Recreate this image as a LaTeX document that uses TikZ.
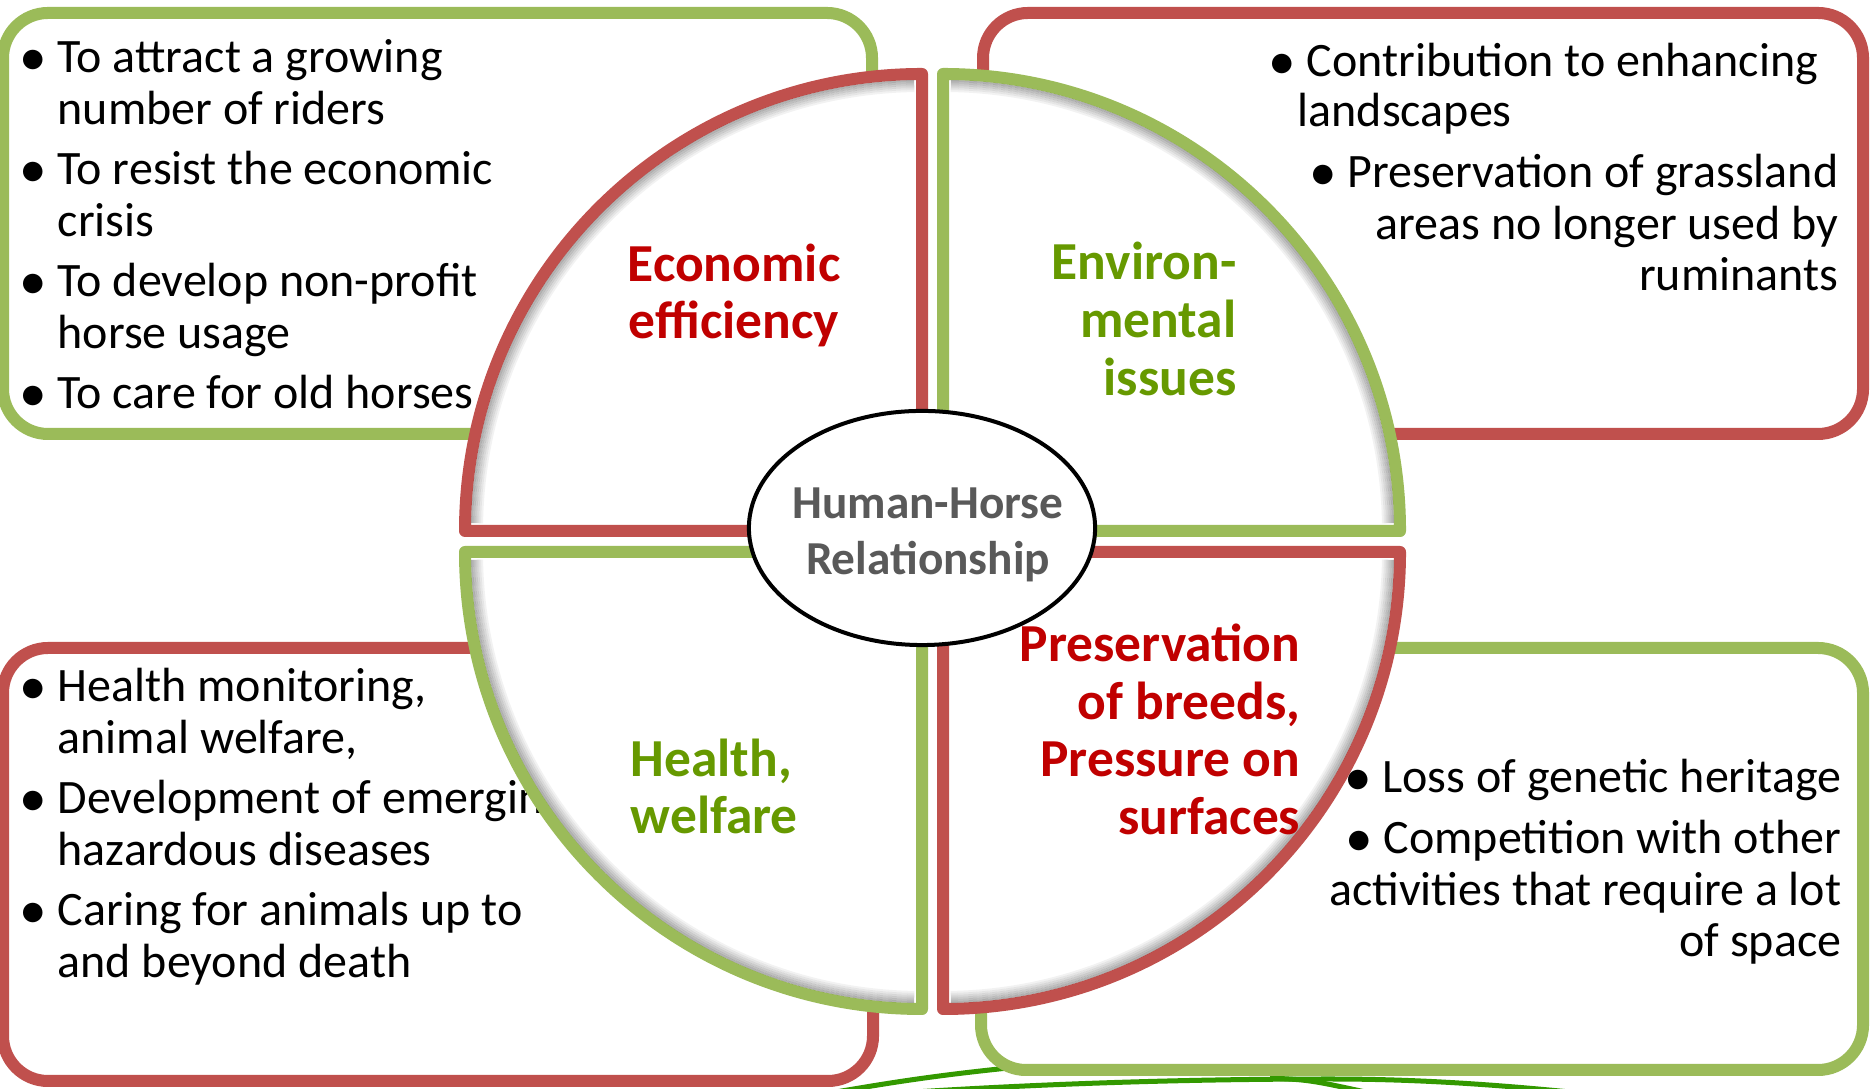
\documentclass[tikz,border=0pt]{standalone}
\usepackage{graphicx}
\usepackage{fontspec}
\setmainfont{Carlito}
\usetikzlibrary{shapes.geometric}

\definecolor{hhred}{HTML}{C0504D}
\definecolor{hhgreen}{HTML}{9BBB59}
\definecolor{titlered}{HTML}{C00000}
\definecolor{titlegreen}{HTML}{669900}
\definecolor{hubgray}{HTML}{595959}
\definecolor{vine}{HTML}{339900}

\newcommand{\bul}{\llap{\raisebox{-0.12ex}{\scalebox{1.15}{\textbullet}}\hspace{3pt}}}

\tikzset{
  box/.style={line width=0.12cm, rounded corners=0.45cm, fill=white},
  quarter/.style={line width=0.12cm, line join=round, fill=white},
  body/.style={font=\fontsize{13.65}{15}\selectfont, inner sep=0pt, yshift=-0.02cm},
  heading/.style={font=\fontsize{15.2}{16.4}\selectfont\bfseries, inner sep=0pt, yshift=-0.02cm},
  hub/.style={ellipse, draw=black, line width=0.04cm, fill=white,
    minimum width=3.46cm, minimum height=2.34cm, inner sep=0pt},
  hubtext/.style={font=\fontsize{13.45}{16}\selectfont\bfseries, text=hubgray,
    inner sep=0pt, anchor=base, yshift=-0.02cm}
}

\begin{document}
\begin{tikzpicture}[x=0.01cm, y=0.01cm]
\fill[white] (0,0) rectangle (1874,1089);
\useasboundingbox (0,0) rectangle (1874,1089);

% stems along the bottom edge
\draw[vine, line width=0.05cm] (830,-4) .. controls (900,8) and (950,16) .. (1060,26);
\draw[vine, line width=0.05cm] (900,-4) .. controls (1050,6) and (1200,10) .. (1330,10)
  .. controls (1420,10) and (1500,4) .. (1580,-4);
\draw[vine, line width=0.05cm] (1270,11) .. controls (1310,9) .. (1370,-4);

% outer boxes
\draw[box, draw=hhgreen] (3,655) rectangle (872,1076);
\draw[box, draw=hhred] (983,655) rectangle (1863,1076);
\draw[box, draw=hhred] (3,8) rectangle (873,441);
\draw[box, draw=hhgreen] (981,19) rectangle (1863,441);

% box texts
\foreach \y/\t [count=\i] in {1018/{\bul To attract a growing}, 966/{number of riders},
    906/{\bul To resist the economic}, 854/{crisis},
    794/{\bul To develop non-profit}, 742/{horse usage},
    682/{\bul To care for old horses}}
  \node[body, anchor=base west] (econ\i) at (57,\y) {\t};

\node[body, anchor=base west] (env1) at (1306,1014) {\bul Contribution to enhancing};
\node[body, anchor=base west] (env2) at (1297,964) {landscapes};
\foreach \y/\t [count=\i from 3] in {903/{\bul Preservation of grassland},
    851/{areas no longer used by}, 800/{ruminants}}
  \node[body, anchor=base east] (env\i) at (1839,\y) {\t};

\foreach \y/\t [count=\i] in {389/{\bul Health monitoring,}, 337/{animal welfare,},
    277/{\bul Development of emerging}, 225/{hazardous diseases},
    165/{\bul Caring for animals up to}, 113/{and beyond death}}
  \node[body, anchor=base west] (care\i) at (57,\y) {\t};

\foreach \y/\t [count=\i] in {298/{\bul Loss of genetic heritage},
    237/{\bul Competition with other}, 185/{activities that require a lot},
    134/{of space}}
  \node[body, anchor=base east] (breed\i) at (1842,\y) {\t};

% quarters
\foreach \cx/\cy/\s/\c in {922/558/90/hhred, 943/558/0/hhgreen,
    922/537/180/hhgreen, 943/537/270/hhred} {
  \draw[quarter, draw=\c] (\cx,\cy) -- ++(\s:457)
    arc[start angle=\s, end angle=\s+90, radius=457] -- cycle;
  \foreach \k [evaluate=\k as \r using 450-2*\k,
               evaluate=\k as \o using 0.3-0.05*\k] in {0,...,5}
    \draw[black, opacity=\o, line width=0.02cm] (\cx,\cy) ++(\s+1:\r)
      arc[start angle=\s+1, end angle=\s+89, radius=\r];
}

% quarter titles
\node[heading, text=titlered, anchor=base] (econA) at (734,809) {Economic};
\node[heading, text=titlered, anchor=base] (econB) at (734,752) {efficiency};

\node[heading, text=titlegreen, anchor=base east] (envA) at (1237,811) {Environ-};
\node[heading, text=titlegreen, anchor=base east] (envB) at (1237,753) {mental};
\node[heading, text=titlegreen, anchor=base east] (envC) at (1237,695) {issues};

\node[heading, text=titlegreen, anchor=base west] (careA) at (630,314) {Health,};
\node[heading, text=titlegreen, anchor=base west] (careB) at (630,257) {welfare};

\node[heading, text=titlered, anchor=base east] (breedA) at (1301,429) {Preservation};
\node[heading, text=titlered, anchor=base east] (breedB) at (1301,371) {of breeds,};
\node[heading, text=titlered, anchor=base east] (breedC) at (1301,314) {Pressure on};
\node[heading, text=titlered, anchor=base east] (breedD) at (1301,256) {surfaces};

% centre
\node[hub] (hub) at (922,561) {};
\node[hubtext] (hubA) at (928,572) {Human-Horse};
\node[hubtext] (hubB) at (928,516) {Relationship};
\end{tikzpicture}
\end{document}
